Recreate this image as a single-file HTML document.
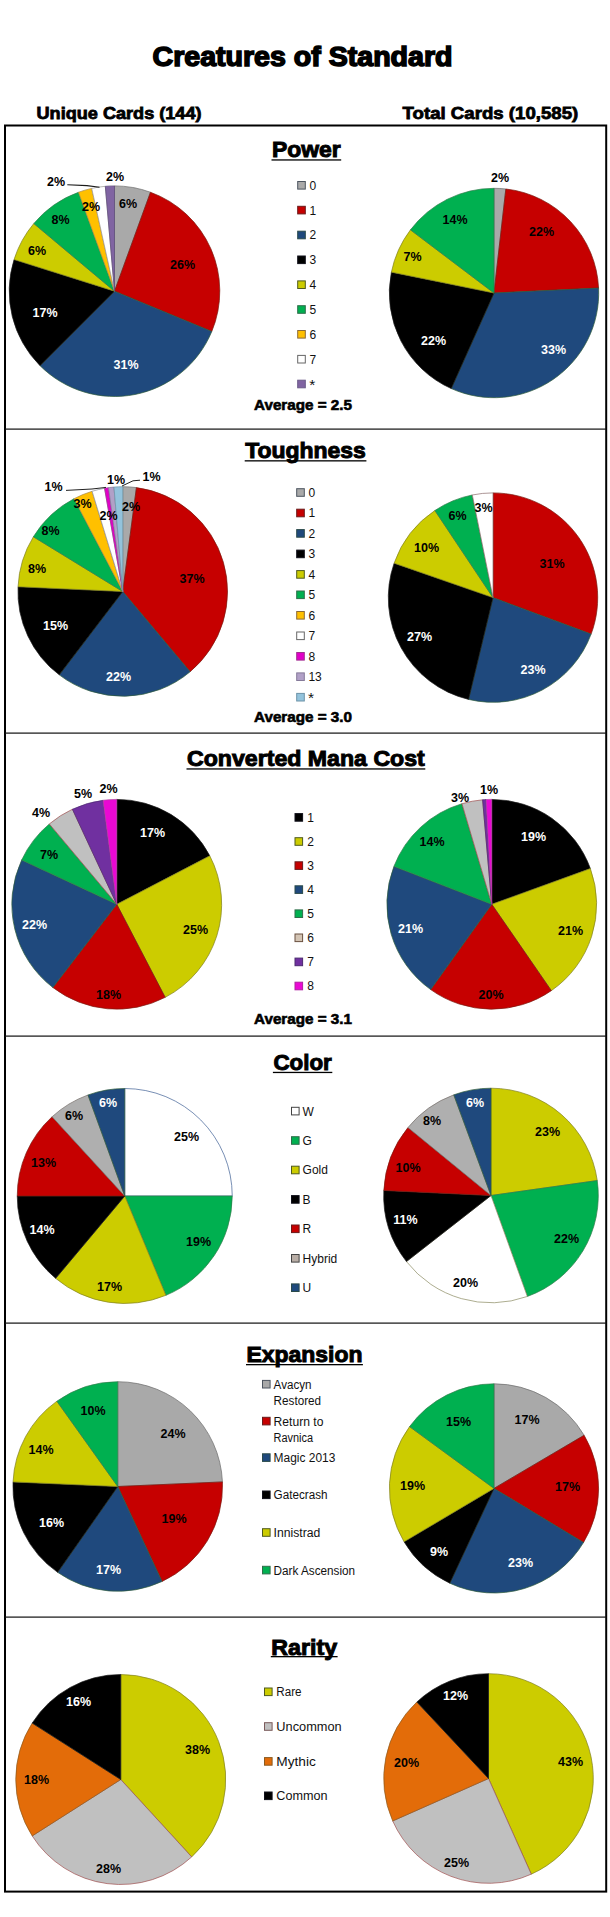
<!DOCTYPE html>
<html lang="en"><head><meta charset="utf-8"><title>Creatures of Standard</title>
<style>
html,body{margin:0;padding:0;background:#fff;}
svg{display:block;}
text{font-family:"Liberation Sans",Arial,sans-serif;}
.h1{font-weight:bold;font-size:26.8px;stroke:#000;stroke-width:1.5px;}
.sub{font-weight:bold;font-size:17.3px;stroke:#000;stroke-width:0.8px;}
.h2{font-weight:bold;font-size:22.3px;stroke:#000;stroke-width:1.0px;}
.av{font-weight:bold;font-size:14.4px;stroke:#000;stroke-width:0.6px;}
.dl{font-weight:bold;font-size:12.5px;text-anchor:middle;}
.lg{font-size:12px;fill:#111;}
</style></head><body>
<svg width="610" height="1917" viewBox="0 0 610 1917">
<rect width="610" height="1917" fill="#fff"/>
<text class="h1" x="152.5" y="66.2" textLength="300" lengthAdjust="spacingAndGlyphs">Creatures of Standard</text>
<text class="sub" x="36.5" y="118.9" textLength="165" lengthAdjust="spacingAndGlyphs">Unique Cards (144)</text>
<text class="sub" x="402.6" y="118.9" textLength="175.6" lengthAdjust="spacingAndGlyphs">Total Cards (10,585)</text>
<rect x="5" y="125.5" width="601.2" height="1766.1" fill="none" stroke="#000" stroke-width="2"/>
<rect x="5" y="428.5" width="601.2" height="1.2" fill="#111"/>
<rect x="5" y="732.5" width="601.2" height="1.2" fill="#111"/>
<rect x="5" y="1035.5" width="601.2" height="1.2" fill="#111"/>
<rect x="5" y="1322.5" width="601.2" height="1.2" fill="#111"/>
<rect x="5" y="1616.5" width="601.2" height="1.2" fill="#111"/>
<text class="h2" x="272" y="157" textLength="68.7" lengthAdjust="spacingAndGlyphs">Power</text>
<rect x="271.5" y="159.3" width="69.7" height="1.3" fill="#000"/>
<g><path d="M114.50 291.20L114.50 185.90A105.3 105.3 0 0 1 150.51 192.25Z" fill="#A9A9A9" stroke="#6b6b6b" stroke-width="0.7" stroke-linejoin="round"/><path d="M114.50 291.20L150.51 192.25A105.3 105.3 0 0 1 211.78 331.50Z" fill="#C60000" stroke="#7a1a10" stroke-width="0.7" stroke-linejoin="round"/><path d="M114.50 291.20L211.78 331.50A105.3 105.3 0 0 1 40.04 365.66Z" fill="#1F497D" stroke="#2e5c3a" stroke-width="0.7" stroke-linejoin="round"/><path d="M114.50 291.20L40.04 365.66A105.3 105.3 0 0 1 14.07 259.54Z" fill="#000000" stroke="#1a1a1a" stroke-width="0.7" stroke-linejoin="round"/><path d="M114.50 291.20L14.07 259.54A105.3 105.3 0 0 1 33.84 223.51Z" fill="#CCCC00" stroke="#7f7f1f" stroke-width="0.7" stroke-linejoin="round"/><path d="M114.50 291.20L33.84 223.51A105.3 105.3 0 0 1 78.49 192.25Z" fill="#00B050" stroke="#2f7d4a" stroke-width="0.7" stroke-linejoin="round"/><path d="M114.50 291.20L78.49 192.25A105.3 105.3 0 0 1 91.71 188.40Z" fill="#FFC000" stroke="#a98a4a" stroke-width="0.7" stroke-linejoin="round"/><path d="M114.50 291.20L91.71 188.40A105.3 105.3 0 0 1 105.32 186.30Z" fill="#FFFFFF" stroke="#9a9690" stroke-width="0.7" stroke-linejoin="round"/><path d="M114.50 291.20L105.32 186.30A105.3 105.3 0 0 1 114.50 185.90Z" fill="#8064A2" stroke="#5c4a78" stroke-width="0.7" stroke-linejoin="round"/></g>
<path d="M67.3 184.7L87 185.6L99.5 187.3" fill="none" stroke="#1a1a1a" stroke-width="1.1"/>
<text class="dl" x="115" y="181.0" fill="#000">2%</text>
<text class="dl" x="56" y="186.0" fill="#000">2%</text>
<text class="dl" x="128" y="207.5" fill="#000">6%</text>
<text class="dl" x="91" y="210.5" fill="#000">2%</text>
<text class="dl" x="60.5" y="223.5" fill="#000">8%</text>
<text class="dl" x="37" y="255.0" fill="#000">6%</text>
<text class="dl" x="182.5" y="269.0" fill="#000">26%</text>
<text class="dl" x="45" y="316.5" fill="#fff">17%</text>
<text class="dl" x="126" y="369.0" fill="#fff">31%</text>
<g><path d="M494.00 293.00L494.00 188.30A104.7 104.7 0 0 1 505.85 188.97Z" fill="#A9A9A9" stroke="#6b6b6b" stroke-width="0.7" stroke-linejoin="round"/><path d="M494.00 293.00L505.85 188.97A104.7 104.7 0 0 1 598.58 288.07Z" fill="#C60000" stroke="#7a1a10" stroke-width="0.7" stroke-linejoin="round"/><path d="M494.00 293.00L598.58 288.07A104.7 104.7 0 0 1 451.25 388.57Z" fill="#1F497D" stroke="#2e5c3a" stroke-width="0.7" stroke-linejoin="round"/><path d="M494.00 293.00L451.25 388.57A104.7 104.7 0 0 1 391.40 272.13Z" fill="#000000" stroke="#1a1a1a" stroke-width="0.7" stroke-linejoin="round"/><path d="M494.00 293.00L391.40 272.13A104.7 104.7 0 0 1 410.49 229.84Z" fill="#CCCC00" stroke="#7f7f1f" stroke-width="0.7" stroke-linejoin="round"/><path d="M494.00 293.00L410.49 229.84A104.7 104.7 0 0 1 494.00 188.30Z" fill="#00B050" stroke="#2f7d4a" stroke-width="0.7" stroke-linejoin="round"/></g>
<text class="dl" x="500" y="182.0" fill="#000">2%</text>
<text class="dl" x="455" y="223.5" fill="#000">14%</text>
<text class="dl" x="541.5" y="235.5" fill="#000">22%</text>
<text class="dl" x="412.5" y="261.0" fill="#000">7%</text>
<text class="dl" x="433.5" y="344.5" fill="#fff">22%</text>
<text class="dl" x="553.5" y="353.5" fill="#fff">33%</text>
<rect x="297.7" y="181.5" width="7.6" height="7.6" fill="#A9A9A9" stroke="#4d5560" stroke-width="1"/>
<text class="lg" x="309.5" y="189.7">0</text>
<rect x="297.7" y="206.3" width="7.6" height="7.6" fill="#C60000" stroke="#6a1a1a" stroke-width="1"/>
<text class="lg" x="309.5" y="214.5">1</text>
<rect x="297.7" y="231.2" width="7.6" height="7.6" fill="#1F497D" stroke="#2a4a4a" stroke-width="1"/>
<text class="lg" x="309.5" y="239.4">2</text>
<rect x="297.7" y="256.0" width="7.6" height="7.6" fill="#000000" stroke="#10101a" stroke-width="1"/>
<text class="lg" x="309.5" y="264.2">3</text>
<rect x="297.7" y="280.9" width="7.6" height="7.6" fill="#CCCC00" stroke="#4f5a1f" stroke-width="1"/>
<text class="lg" x="309.5" y="289.1">4</text>
<rect x="297.7" y="305.7" width="7.6" height="7.6" fill="#00B050" stroke="#2f6d4a" stroke-width="1"/>
<text class="lg" x="309.5" y="313.9">5</text>
<rect x="297.7" y="330.5" width="7.6" height="7.6" fill="#FFC000" stroke="#8a6a3a" stroke-width="1"/>
<text class="lg" x="309.5" y="338.7">6</text>
<rect x="297.7" y="355.4" width="7.6" height="7.6" fill="#FFFFFF" stroke="#666" stroke-width="1"/>
<text class="lg" x="309.5" y="363.6">7</text>
<rect x="297.7" y="380.2" width="7.6" height="7.6" fill="#8064A2" stroke="#6a5a88" stroke-width="1"/>
<text class="lg" style="font-size:15.5px" x="309.2" y="389.6">*</text>
<text class="av" x="254" y="410.2" textLength="98" lengthAdjust="spacingAndGlyphs">Average = 2.5</text>
<text class="h2" x="245.2" y="458.2" textLength="120.7" lengthAdjust="spacingAndGlyphs">Toughness</text>
<rect x="244.7" y="460.2" width="121.7" height="1.3" fill="#000"/>
<g><path d="M122.75 591.50L122.75 486.70A104.8 104.8 0 0 1 136.43 487.60Z" fill="#A9A9A9" stroke="#6b6b6b" stroke-width="0.7" stroke-linejoin="round"/><path d="M122.75 591.50L136.43 487.60A104.8 104.8 0 0 1 190.11 671.78Z" fill="#C60000" stroke="#7a1a10" stroke-width="0.7" stroke-linejoin="round"/><path d="M122.75 591.50L190.11 671.78A104.8 104.8 0 0 1 59.24 674.87Z" fill="#1F497D" stroke="#2e5c3a" stroke-width="0.7" stroke-linejoin="round"/><path d="M122.75 591.50L59.24 674.87A104.8 104.8 0 0 1 18.06 586.75Z" fill="#000000" stroke="#1a1a1a" stroke-width="0.7" stroke-linejoin="round"/><path d="M122.75 591.50L18.06 586.75A104.8 104.8 0 0 1 33.39 536.74Z" fill="#CCCC00" stroke="#7f7f1f" stroke-width="0.7" stroke-linejoin="round"/><path d="M122.75 591.50L33.39 536.74A104.8 104.8 0 0 1 74.03 498.71Z" fill="#00B050" stroke="#2f7d4a" stroke-width="0.7" stroke-linejoin="round"/><path d="M122.75 591.50L74.03 498.71A104.8 104.8 0 0 1 92.11 491.28Z" fill="#FFC000" stroke="#a98a4a" stroke-width="0.7" stroke-linejoin="round"/><path d="M122.75 591.50L92.11 491.28A104.8 104.8 0 0 1 104.55 488.29Z" fill="#FFFFFF" stroke="#8c8f99" stroke-width="0.7" stroke-linejoin="round"/><path d="M122.75 591.50L104.55 488.29A104.8 104.8 0 0 1 108.53 487.67Z" fill="#E100C8" stroke="#a03090" stroke-width="0.7" stroke-linejoin="round"/><path d="M122.75 591.50L108.53 487.67A104.8 104.8 0 0 1 113.98 487.07Z" fill="#B1A0C7" stroke="#857a99" stroke-width="0.7" stroke-linejoin="round"/><path d="M122.75 591.50L113.98 487.07A104.8 104.8 0 0 1 122.75 486.70Z" fill="#93C3DC" stroke="#6d93a8" stroke-width="0.7" stroke-linejoin="round"/></g>
<path d="M66 490.4L92 489L106 487.4" fill="none" stroke="#222" stroke-width="1"/>
<path d="M140 480.2L133 480.8L122 486" fill="none" stroke="#222" stroke-width="1"/>
<text class="dl" x="53.5" y="490.5" fill="#000">1%</text>
<text class="dl" x="116" y="483.8" fill="#000">1%</text>
<text class="dl" x="151.5" y="481.0" fill="#000">1%</text>
<text class="dl" x="82.5" y="508.0" fill="#000">3%</text>
<text class="dl" x="108.5" y="519.5" fill="#000">2%</text>
<text class="dl" x="131" y="511.0" fill="#000">2%</text>
<text class="dl" x="50.5" y="534.5" fill="#000">8%</text>
<text class="dl" x="37" y="573.0" fill="#000">8%</text>
<text class="dl" x="192" y="583.0" fill="#000">37%</text>
<text class="dl" x="55.5" y="630.0" fill="#fff">15%</text>
<text class="dl" x="118.5" y="680.5" fill="#fff">22%</text>
<g><path d="M493.00 597.60L493.00 492.90A104.7 104.7 0 0 1 591.13 634.10Z" fill="#C60000" stroke="#7a1a10" stroke-width="0.7" stroke-linejoin="round"/><path d="M493.00 597.60L591.13 634.10A104.7 104.7 0 0 1 468.56 699.41Z" fill="#1F497D" stroke="#2e5c3a" stroke-width="0.7" stroke-linejoin="round"/><path d="M493.00 597.60L468.56 699.41A104.7 104.7 0 0 1 394.12 563.17Z" fill="#000000" stroke="#1a1a1a" stroke-width="0.7" stroke-linejoin="round"/><path d="M493.00 597.60L394.12 563.17A104.7 104.7 0 0 1 434.91 510.49Z" fill="#CCCC00" stroke="#7f7f1f" stroke-width="0.7" stroke-linejoin="round"/><path d="M493.00 597.60L434.91 510.49A104.7 104.7 0 0 1 472.31 494.97Z" fill="#00B050" stroke="#2f7d4a" stroke-width="0.7" stroke-linejoin="round"/><path d="M493.00 597.60L472.31 494.97A104.7 104.7 0 0 1 493.00 492.90Z" fill="#FFFFFF" stroke="#8a6a6a" stroke-width="0.7" stroke-linejoin="round"/></g>
<text class="dl" x="483.5" y="512.0" fill="#000">3%</text>
<text class="dl" x="457.5" y="520.0" fill="#000">6%</text>
<text class="dl" x="426.5" y="551.5" fill="#000">10%</text>
<text class="dl" x="552" y="568.0" fill="#000">31%</text>
<text class="dl" x="419.5" y="640.5" fill="#fff">27%</text>
<text class="dl" x="533" y="674.0" fill="#fff">23%</text>
<rect x="296.7" y="488.7" width="7.6" height="7.6" fill="#A9A9A9" stroke="#4d5560" stroke-width="1"/>
<text class="lg" x="308.4" y="496.9">0</text>
<rect x="296.7" y="509.2" width="7.6" height="7.6" fill="#C60000" stroke="#6a1a1a" stroke-width="1"/>
<text class="lg" x="308.4" y="517.4">1</text>
<rect x="296.7" y="529.6" width="7.6" height="7.6" fill="#1F497D" stroke="#2a4a4a" stroke-width="1"/>
<text class="lg" x="308.4" y="537.8">2</text>
<rect x="296.7" y="550.1" width="7.6" height="7.6" fill="#000000" stroke="#10101a" stroke-width="1"/>
<text class="lg" x="308.4" y="558.3">3</text>
<rect x="296.7" y="570.6" width="7.6" height="7.6" fill="#CCCC00" stroke="#4f5a1f" stroke-width="1"/>
<text class="lg" x="308.4" y="578.8">4</text>
<rect x="296.7" y="591.0" width="7.6" height="7.6" fill="#00B050" stroke="#2f6d4a" stroke-width="1"/>
<text class="lg" x="308.4" y="599.2">5</text>
<rect x="296.7" y="611.5" width="7.6" height="7.6" fill="#FFC000" stroke="#8a6a3a" stroke-width="1"/>
<text class="lg" x="308.4" y="619.7">6</text>
<rect x="296.7" y="632.0" width="7.6" height="7.6" fill="#FFFFFF" stroke="#666" stroke-width="1"/>
<text class="lg" x="308.4" y="640.2">7</text>
<rect x="296.7" y="652.5" width="7.6" height="7.6" fill="#E100C8" stroke="#a03090" stroke-width="1"/>
<text class="lg" x="308.4" y="660.7">8</text>
<rect x="296.7" y="672.9" width="7.6" height="7.6" fill="#B1A0C7" stroke="#857a99" stroke-width="1"/>
<text class="lg" x="308.4" y="681.1">13</text>
<rect x="296.7" y="693.4" width="7.6" height="7.6" fill="#93C3DC" stroke="#6d93a8" stroke-width="1"/>
<text class="lg" style="font-size:15.5px" x="308.09999999999997" y="702.8">*</text>
<text class="av" x="254" y="722" textLength="98" lengthAdjust="spacingAndGlyphs">Average = 3.0</text>
<text class="h2" x="187" y="766.2" textLength="237.8" lengthAdjust="spacingAndGlyphs">Converted Mana Cost</text>
<rect x="186.5" y="768.3" width="238.8" height="1.3" fill="#000"/>
<g><path d="M116.75 904.30L116.75 799.40A104.9 104.9 0 0 1 209.80 855.86Z" fill="#000000" stroke="#1a1a1a" stroke-width="0.7" stroke-linejoin="round"/><path d="M116.75 904.30L209.80 855.86A104.9 104.9 0 0 1 165.19 997.35Z" fill="#CCCC00" stroke="#7f7f1f" stroke-width="0.7" stroke-linejoin="round"/><path d="M116.75 904.30L165.19 997.35A104.9 104.9 0 0 1 52.89 987.52Z" fill="#C60000" stroke="#7a1a10" stroke-width="0.7" stroke-linejoin="round"/><path d="M116.75 904.30L52.89 987.52A104.9 104.9 0 0 1 21.68 859.97Z" fill="#1F497D" stroke="#2e5c3a" stroke-width="0.7" stroke-linejoin="round"/><path d="M116.75 904.30L21.68 859.97A104.9 104.9 0 0 1 49.32 823.94Z" fill="#00B050" stroke="#2f7d4a" stroke-width="0.7" stroke-linejoin="round"/><path d="M116.75 904.30L49.32 823.94A104.9 104.9 0 0 1 72.42 809.23Z" fill="#C0C0C0" stroke="#a05050" stroke-width="0.7" stroke-linejoin="round"/><path d="M116.75 904.30L72.42 809.23A104.9 104.9 0 0 1 103.06 800.30Z" fill="#7030A0" stroke="#4c2a70" stroke-width="0.7" stroke-linejoin="round"/><path d="M116.75 904.30L103.06 800.30A104.9 104.9 0 0 1 116.75 799.40Z" fill="#EA08D4" stroke="#b040a0" stroke-width="0.7" stroke-linejoin="round"/></g>
<text class="dl" x="108.5" y="792.5" fill="#000">2%</text>
<text class="dl" x="83" y="797.5" fill="#000">5%</text>
<text class="dl" x="41" y="817.0" fill="#000">4%</text>
<text class="dl" x="152.5" y="837.0" fill="#fff">17%</text>
<text class="dl" x="49" y="858.5" fill="#000">7%</text>
<text class="dl" x="34.5" y="929.0" fill="#fff">22%</text>
<text class="dl" x="195.5" y="934.0" fill="#000">25%</text>
<text class="dl" x="108.5" y="999.0" fill="#000">18%</text>
<g><path d="M491.75 904.30L491.75 799.40A104.9 104.9 0 0 1 590.39 868.59Z" fill="#000000" stroke="#1a1a1a" stroke-width="0.7" stroke-linejoin="round"/><path d="M491.75 904.30L590.39 868.59A104.9 104.9 0 0 1 551.32 990.65Z" fill="#CCCC00" stroke="#7f7f1f" stroke-width="0.7" stroke-linejoin="round"/><path d="M491.75 904.30L551.32 990.65A104.9 104.9 0 0 1 430.69 989.59Z" fill="#C60000" stroke="#7a1a10" stroke-width="0.7" stroke-linejoin="round"/><path d="M491.75 904.30L430.69 989.59A104.9 104.9 0 0 1 393.95 866.37Z" fill="#1F497D" stroke="#2e5c3a" stroke-width="0.7" stroke-linejoin="round"/><path d="M491.75 904.30L393.95 866.37A104.9 104.9 0 0 1 461.96 803.72Z" fill="#00B050" stroke="#2f7d4a" stroke-width="0.7" stroke-linejoin="round"/><path d="M491.75 904.30L461.96 803.72A104.9 104.9 0 0 1 482.61 799.80Z" fill="#C0C0C0" stroke="#a05050" stroke-width="0.7" stroke-linejoin="round"/><path d="M491.75 904.30L482.61 799.80A104.9 104.9 0 0 1 486.08 799.55Z" fill="#7030A0" stroke="#4c2a70" stroke-width="0.7" stroke-linejoin="round"/><path d="M491.75 904.30L486.08 799.55A104.9 104.9 0 0 1 491.75 799.40Z" fill="#EA08D4" stroke="#b040a0" stroke-width="0.7" stroke-linejoin="round"/></g>
<text class="dl" x="460" y="802.0" fill="#000">3%</text>
<text class="dl" x="489" y="793.5" fill="#000">1%</text>
<text class="dl" x="533.5" y="841.0" fill="#fff">19%</text>
<text class="dl" x="432" y="846.0" fill="#000">14%</text>
<text class="dl" x="410.5" y="932.5" fill="#fff">21%</text>
<text class="dl" x="570.5" y="934.5" fill="#000">21%</text>
<text class="dl" x="491" y="999.0" fill="#000">20%</text>
<rect x="295.0" y="813.6" width="7.6" height="7.6" fill="#000000" stroke="#10101a" stroke-width="1"/>
<text class="lg" x="307.2" y="821.8">1</text>
<rect x="295.0" y="837.7" width="7.6" height="7.6" fill="#CCCC00" stroke="#4f5a1f" stroke-width="1"/>
<text class="lg" x="307.2" y="845.9">2</text>
<rect x="295.0" y="861.8" width="7.6" height="7.6" fill="#C60000" stroke="#6a1a1a" stroke-width="1"/>
<text class="lg" x="307.2" y="870.0">3</text>
<rect x="295.0" y="885.8" width="7.6" height="7.6" fill="#1F497D" stroke="#2a4a4a" stroke-width="1"/>
<text class="lg" x="307.2" y="894.0">4</text>
<rect x="295.0" y="909.9" width="7.6" height="7.6" fill="#00B050" stroke="#2f6d4a" stroke-width="1"/>
<text class="lg" x="307.2" y="918.1">5</text>
<rect x="295.0" y="934.0" width="7.6" height="7.6" fill="#D3C4B4" stroke="#6a5040" stroke-width="1"/>
<text class="lg" x="307.2" y="942.2">6</text>
<rect x="295.0" y="958.1" width="7.6" height="7.6" fill="#7030A0" stroke="#4c2a70" stroke-width="1"/>
<text class="lg" x="307.2" y="966.3">7</text>
<rect x="295.0" y="982.2" width="7.6" height="7.6" fill="#EA08D4" stroke="#b020a0" stroke-width="1"/>
<text class="lg" x="307.2" y="990.4">8</text>
<text class="av" x="254" y="1023.6" textLength="98" lengthAdjust="spacingAndGlyphs">Average = 3.1</text>
<text class="h2" x="273.4" y="1069.5" textLength="58.4" lengthAdjust="spacingAndGlyphs">Color</text>
<rect x="272.9" y="1071.8" width="59.4" height="1.3" fill="#000"/>
<g><path d="M124.75 1196.00L124.75 1088.50A107.5 107.5 0 0 1 232.25 1196.00Z" fill="#FFFFFF" stroke="#3d5f94" stroke-width="0.7" stroke-linejoin="round"/><path d="M124.75 1196.00L232.25 1196.00A107.5 107.5 0 0 1 165.89 1295.32Z" fill="#00B050" stroke="#2f7d4a" stroke-width="0.7" stroke-linejoin="round"/><path d="M124.75 1196.00L165.89 1295.32A107.5 107.5 0 0 1 55.65 1278.35Z" fill="#CCCC00" stroke="#7f7f1f" stroke-width="0.7" stroke-linejoin="round"/><path d="M124.75 1196.00L55.65 1278.35A107.5 107.5 0 0 1 17.25 1196.00Z" fill="#000000" stroke="#1a1a1a" stroke-width="0.7" stroke-linejoin="round"/><path d="M124.75 1196.00L17.25 1196.00A107.5 107.5 0 0 1 52.12 1116.74Z" fill="#C60000" stroke="#7a1a10" stroke-width="0.7" stroke-linejoin="round"/><path d="M124.75 1196.00L52.12 1116.74A107.5 107.5 0 0 1 87.98 1094.98Z" fill="#AFAFAF" stroke="#77706b" stroke-width="0.7" stroke-linejoin="round"/><path d="M124.75 1196.00L87.98 1094.98A107.5 107.5 0 0 1 124.75 1088.50Z" fill="#1F497D" stroke="#2e5c3a" stroke-width="0.7" stroke-linejoin="round"/></g>
<text class="dl" x="108" y="1106.5" fill="#fff">6%</text>
<text class="dl" x="74" y="1119.5" fill="#000">6%</text>
<text class="dl" x="186.5" y="1141.0" fill="#000">25%</text>
<text class="dl" x="43.5" y="1167.0" fill="#000">13%</text>
<text class="dl" x="42" y="1233.5" fill="#fff">14%</text>
<text class="dl" x="198.5" y="1246.0" fill="#000">19%</text>
<text class="dl" x="109.5" y="1290.5" fill="#000">17%</text>
<g><path d="M491.00 1195.50L491.00 1088.20A107.3 107.3 0 0 1 597.26 1180.57Z" fill="#CCCC00" stroke="#7f7f1f" stroke-width="0.7" stroke-linejoin="round"/><path d="M491.00 1195.50L597.26 1180.57A107.3 107.3 0 0 1 527.35 1296.46Z" fill="#00B050" stroke="#2f7d4a" stroke-width="0.7" stroke-linejoin="round"/><path d="M491.00 1195.50L527.35 1296.46A107.3 107.3 0 0 1 406.45 1261.56Z" fill="#FFFFFF" stroke="#8a8a60" stroke-width="0.7" stroke-linejoin="round"/><path d="M491.00 1195.50L406.45 1261.56A107.3 107.3 0 0 1 383.82 1190.45Z" fill="#000000" stroke="#1a1a1a" stroke-width="0.7" stroke-linejoin="round"/><path d="M491.00 1195.50L383.82 1190.45A107.3 107.3 0 0 1 407.97 1127.54Z" fill="#C60000" stroke="#7a1a10" stroke-width="0.7" stroke-linejoin="round"/><path d="M491.00 1195.50L407.97 1127.54A107.3 107.3 0 0 1 453.77 1094.86Z" fill="#AFAFAF" stroke="#77706b" stroke-width="0.7" stroke-linejoin="round"/><path d="M491.00 1195.50L453.77 1094.86A107.3 107.3 0 0 1 491.00 1088.20Z" fill="#1F497D" stroke="#2e5c3a" stroke-width="0.7" stroke-linejoin="round"/></g>
<text class="dl" x="475" y="1106.5" fill="#fff">6%</text>
<text class="dl" x="432" y="1125.0" fill="#000">8%</text>
<text class="dl" x="547.5" y="1135.5" fill="#000">23%</text>
<text class="dl" x="408" y="1172.0" fill="#000">10%</text>
<text class="dl" x="405.5" y="1224.0" fill="#fff">11%</text>
<text class="dl" x="566.5" y="1242.5" fill="#000">22%</text>
<text class="dl" x="465.5" y="1286.5" fill="#000">20%</text>
<rect x="291.5" y="1107.3" width="7.6" height="7.6" fill="#FFFFFF" stroke="#444" stroke-width="1"/>
<text class="lg" x="302.6" y="1115.5">W</text>
<rect x="291.5" y="1136.7" width="7.6" height="7.6" fill="#00B050" stroke="#2f6d4a" stroke-width="1"/>
<text class="lg" x="302.6" y="1144.9">G</text>
<rect x="291.5" y="1166.2" width="7.6" height="7.6" fill="#CCCC00" stroke="#4f5a1f" stroke-width="1"/>
<text class="lg" x="302.6" y="1174.4">Gold</text>
<rect x="291.5" y="1195.6" width="7.6" height="7.6" fill="#000000" stroke="#10101a" stroke-width="1"/>
<text class="lg" x="302.6" y="1203.8">B</text>
<rect x="291.5" y="1225.0" width="7.6" height="7.6" fill="#C60000" stroke="#6a1a1a" stroke-width="1"/>
<text class="lg" x="302.6" y="1233.2">R</text>
<rect x="291.5" y="1254.5" width="7.6" height="7.6" fill="#B9AEA6" stroke="#444" stroke-width="1"/>
<text class="lg" x="302.6" y="1262.7">Hybrid</text>
<rect x="291.5" y="1283.9" width="7.6" height="7.6" fill="#1F497D" stroke="#2a4a4a" stroke-width="1"/>
<text class="lg" x="302.6" y="1292.1">U</text>
<text class="h2" x="246.5" y="1361.7" textLength="115.9" lengthAdjust="spacingAndGlyphs">Expansion</text>
<rect x="246.0" y="1364" width="116.9" height="1.3" fill="#000"/>
<g><path d="M117.75 1486.50L117.75 1381.70A104.8 104.8 0 0 1 222.45 1481.93Z" fill="#A9A9A9" stroke="#6b6b6b" stroke-width="0.7" stroke-linejoin="round"/><path d="M117.75 1486.50L222.45 1481.93A104.8 104.8 0 0 1 162.04 1581.48Z" fill="#C60000" stroke="#7a1a10" stroke-width="0.7" stroke-linejoin="round"/><path d="M117.75 1486.50L162.04 1581.48A104.8 104.8 0 0 1 57.64 1572.35Z" fill="#1F497D" stroke="#2e5c3a" stroke-width="0.7" stroke-linejoin="round"/><path d="M117.75 1486.50L57.64 1572.35A104.8 104.8 0 0 1 13.05 1481.93Z" fill="#000000" stroke="#1a1a1a" stroke-width="0.7" stroke-linejoin="round"/><path d="M117.75 1486.50L13.05 1481.93A104.8 104.8 0 0 1 56.89 1401.18Z" fill="#CCCC00" stroke="#7f7f1f" stroke-width="0.7" stroke-linejoin="round"/><path d="M117.75 1486.50L56.89 1401.18A104.8 104.8 0 0 1 117.75 1381.70Z" fill="#00B050" stroke="#2f7d4a" stroke-width="0.7" stroke-linejoin="round"/></g>
<text class="dl" x="93" y="1415.0" fill="#000">10%</text>
<text class="dl" x="173" y="1438.0" fill="#000">24%</text>
<text class="dl" x="41" y="1454.0" fill="#000">14%</text>
<text class="dl" x="174" y="1523.0" fill="#000">19%</text>
<text class="dl" x="51.5" y="1527.0" fill="#fff">16%</text>
<text class="dl" x="108.5" y="1573.5" fill="#fff">17%</text>
<g><path d="M494.00 1488.40L494.00 1383.80A104.6 104.6 0 0 1 584.13 1435.31Z" fill="#A9A9A9" stroke="#6b6b6b" stroke-width="0.7" stroke-linejoin="round"/><path d="M494.00 1488.40L584.13 1435.31A104.6 104.6 0 0 1 583.52 1542.51Z" fill="#C60000" stroke="#7a1a10" stroke-width="0.7" stroke-linejoin="round"/><path d="M494.00 1488.40L583.52 1542.51A104.6 104.6 0 0 1 449.79 1583.20Z" fill="#1F497D" stroke="#2e5c3a" stroke-width="0.7" stroke-linejoin="round"/><path d="M494.00 1488.40L449.79 1583.20A104.6 104.6 0 0 1 404.06 1541.80Z" fill="#000000" stroke="#1a1a1a" stroke-width="0.7" stroke-linejoin="round"/><path d="M494.00 1488.40L404.06 1541.80A104.6 104.6 0 0 1 409.59 1426.62Z" fill="#CCCC00" stroke="#7f7f1f" stroke-width="0.7" stroke-linejoin="round"/><path d="M494.00 1488.40L409.59 1426.62A104.6 104.6 0 0 1 494.00 1383.80Z" fill="#00B050" stroke="#2f7d4a" stroke-width="0.7" stroke-linejoin="round"/></g>
<text class="dl" x="458.5" y="1426.0" fill="#000">15%</text>
<text class="dl" x="527" y="1424.0" fill="#000">17%</text>
<text class="dl" x="412.5" y="1490.0" fill="#000">19%</text>
<text class="dl" x="567.5" y="1491.0" fill="#000">17%</text>
<text class="dl" x="439" y="1556.0" fill="#fff">9%</text>
<text class="dl" x="520.5" y="1566.5" fill="#fff">23%</text>
<rect x="262.5" y="1380.4" width="7.6" height="7.6" fill="#A9A9A9" stroke="#4d5560" stroke-width="1"/>
<text class="lg" x="273.6" y="1388.6" textLength="37.9" lengthAdjust="spacingAndGlyphs">Avacyn</text>
<text class="lg" x="273.6" y="1404.6" textLength="47.5" lengthAdjust="spacingAndGlyphs">Restored</text>
<rect x="262.5" y="1417.3" width="7.6" height="7.6" fill="#C60000" stroke="#6a1a1a" stroke-width="1"/>
<text class="lg" x="273.6" y="1425.5" textLength="49.8" lengthAdjust="spacingAndGlyphs">Return to</text>
<text class="lg" x="273.6" y="1441.5" textLength="39.5" lengthAdjust="spacingAndGlyphs">Ravnica</text>
<rect x="262.5" y="1453.8" width="7.6" height="7.6" fill="#1F497D" stroke="#2a4a4a" stroke-width="1"/>
<text class="lg" x="273.6" y="1462.0" textLength="61.7" lengthAdjust="spacingAndGlyphs">Magic 2013</text>
<rect x="262.5" y="1491.0" width="7.6" height="7.6" fill="#000000" stroke="#10101a" stroke-width="1"/>
<text class="lg" x="273.6" y="1499.2" textLength="53.9" lengthAdjust="spacingAndGlyphs">Gatecrash</text>
<rect x="262.5" y="1528.7" width="7.6" height="7.6" fill="#CCCC00" stroke="#4f5a1f" stroke-width="1"/>
<text class="lg" x="273.6" y="1536.9" textLength="46.8" lengthAdjust="spacingAndGlyphs">Innistrad</text>
<rect x="262.5" y="1566.3" width="7.6" height="7.6" fill="#00B050" stroke="#2f6d4a" stroke-width="1"/>
<text class="lg" x="273.6" y="1574.5" textLength="81.5" lengthAdjust="spacingAndGlyphs">Dark Ascension</text>
<text class="h2" x="271.3" y="1654.8" textLength="65.8" lengthAdjust="spacingAndGlyphs">Rarity</text>
<rect x="270.8" y="1656" width="66.8" height="1.3" fill="#000"/>
<g><path d="M120.75 1779.50L120.75 1674.50A105.0 105.0 0 0 1 191.69 1856.91Z" fill="#CCCC00" stroke="#7f7f1f" stroke-width="0.7" stroke-linejoin="round"/><path d="M120.75 1779.50L191.69 1856.91A105.0 105.0 0 0 1 32.19 1835.92Z" fill="#C0C0C0" stroke="#a05050" stroke-width="0.7" stroke-linejoin="round"/><path d="M120.75 1779.50L32.19 1835.92A105.0 105.0 0 0 1 32.19 1723.08Z" fill="#E36C09" stroke="#8a5a20" stroke-width="0.7" stroke-linejoin="round"/><path d="M120.75 1779.50L32.19 1723.08A105.0 105.0 0 0 1 120.75 1674.50Z" fill="#000000" stroke="#1a1a1a" stroke-width="0.7" stroke-linejoin="round"/></g>
<text class="dl" x="78.5" y="1706.0" fill="#fff">16%</text>
<text class="dl" x="197.5" y="1754.0" fill="#000">38%</text>
<text class="dl" x="36.5" y="1784.0" fill="#000">18%</text>
<text class="dl" x="108.5" y="1873.0" fill="#000">28%</text>
<g><path d="M488.50 1778.50L488.50 1673.70A104.8 104.8 0 0 1 531.29 1874.17Z" fill="#CCCC00" stroke="#7f7f1f" stroke-width="0.7" stroke-linejoin="round"/><path d="M488.50 1778.50L531.29 1874.17A104.8 104.8 0 0 1 392.69 1820.96Z" fill="#C0C0C0" stroke="#a05050" stroke-width="0.7" stroke-linejoin="round"/><path d="M488.50 1778.50L392.69 1820.96A104.8 104.8 0 0 1 416.89 1701.98Z" fill="#E36C09" stroke="#8a5a20" stroke-width="0.7" stroke-linejoin="round"/><path d="M488.50 1778.50L416.89 1701.98A104.8 104.8 0 0 1 488.50 1673.70Z" fill="#000000" stroke="#1a1a1a" stroke-width="0.7" stroke-linejoin="round"/></g>
<text class="dl" x="455.5" y="1700.0" fill="#fff">12%</text>
<text class="dl" x="570.5" y="1765.5" fill="#000">43%</text>
<text class="dl" x="406.5" y="1766.5" fill="#000">20%</text>
<text class="dl" x="456.5" y="1866.5" fill="#000">25%</text>
<rect x="264.5" y="1688.0" width="7.6" height="7.6" fill="#CCCC00" stroke="#4f5a1f" stroke-width="1"/>
<text class="lg" x="276.3" y="1696.2" textLength="25.2" lengthAdjust="spacingAndGlyphs">Rare</text>
<rect x="264.5" y="1722.7" width="7.6" height="7.6" fill="#C0C0C0" stroke="#7a5a5a" stroke-width="1"/>
<text class="lg" x="276.3" y="1730.9" textLength="65.4" lengthAdjust="spacingAndGlyphs">Uncommon</text>
<rect x="264.5" y="1757.6" width="7.6" height="7.6" fill="#E36C09" stroke="#8a5a20" stroke-width="1"/>
<text class="lg" x="276.3" y="1765.8" textLength="39.5" lengthAdjust="spacingAndGlyphs">Mythic</text>
<rect x="264.5" y="1792.0" width="7.6" height="7.6" fill="#000000" stroke="#10101a" stroke-width="1"/>
<text class="lg" x="276.3" y="1800.2" textLength="51.2" lengthAdjust="spacingAndGlyphs">Common</text>
</svg></body></html>
